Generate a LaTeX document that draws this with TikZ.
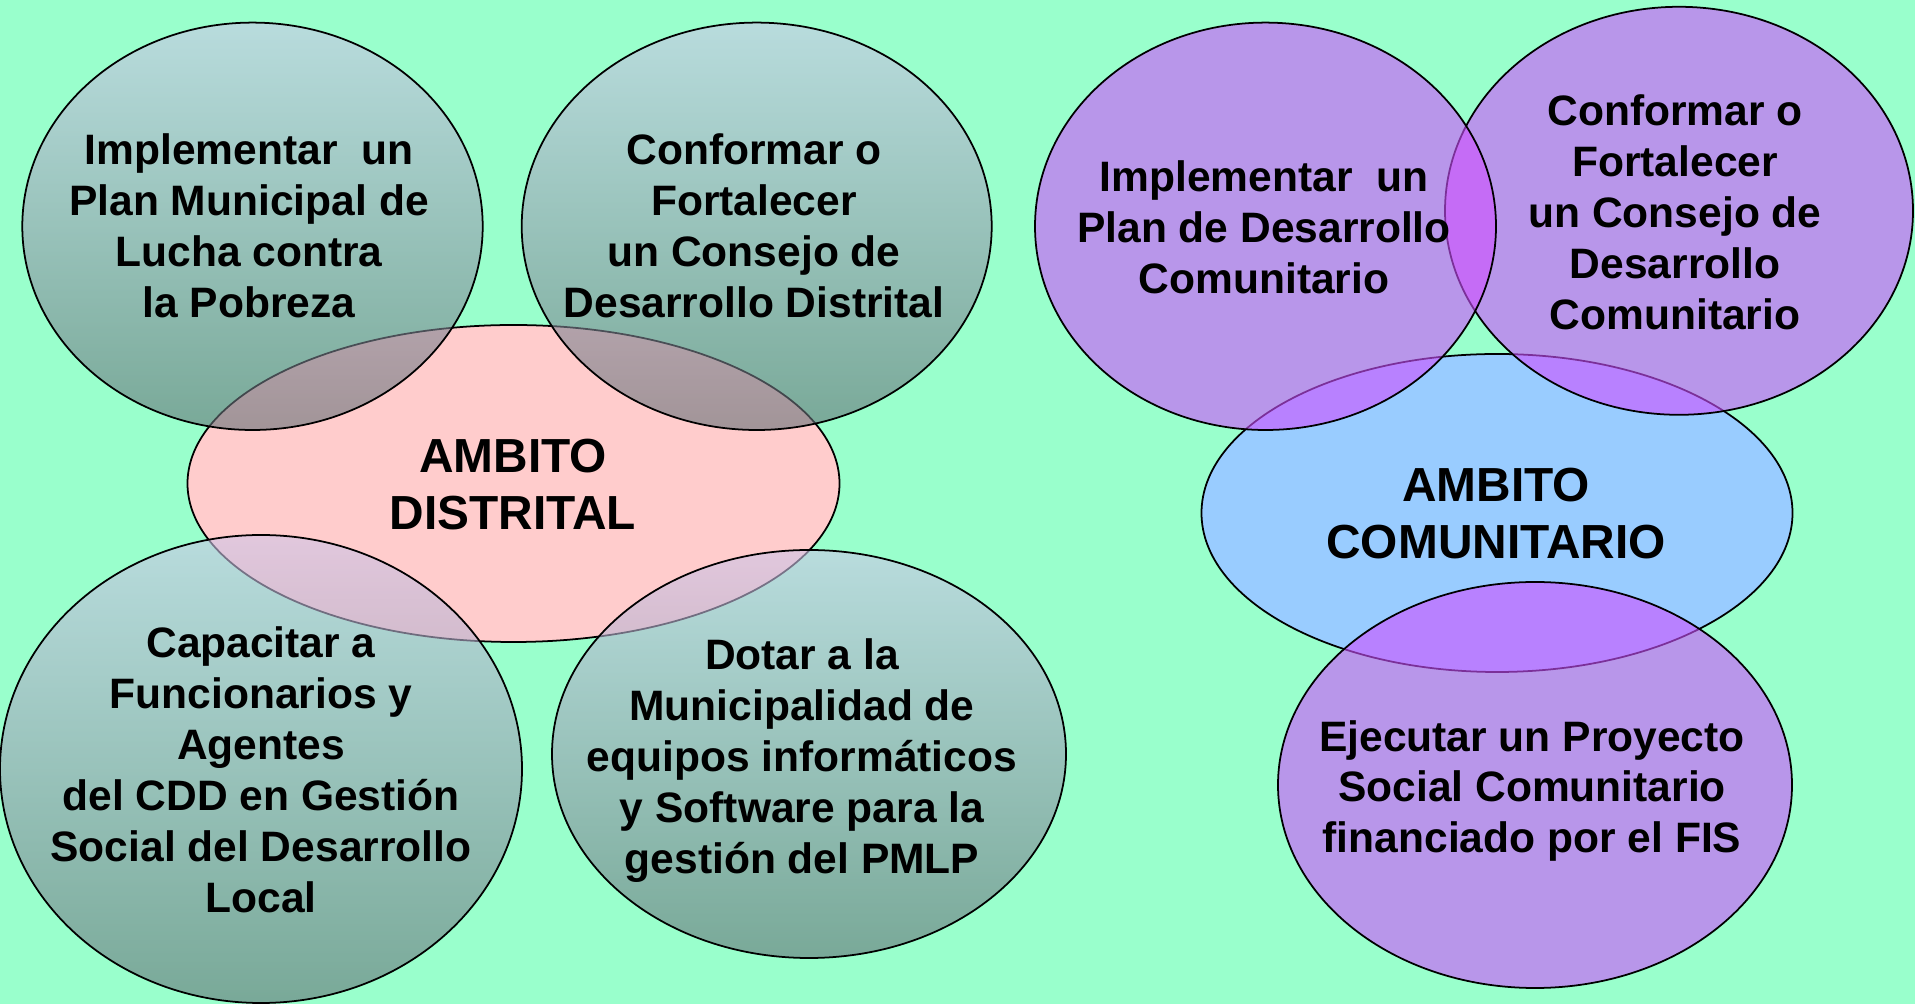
\documentclass[tikz,border=0pt]{standalone}
\usepackage{fontspec}
\setmainfont{Liberation Sans}
\definecolor{mint}{RGB}{153,255,204}
\definecolor{rosa}{RGB}{255,204,204}
\definecolor{celeste}{RGB}{153,204,255}
\definecolor{lila}{RGB}{206,80,255}
\definecolor{verdeclaro}{RGB}{206,197,233}
\definecolor{verdeosc}{RGB}{100,112,118}

\begin{document}
\begin{tikzpicture}[x=0.01cm,y=-0.01cm,
  oval/.style={draw=black,line width=0.5pt},
  verde/.style={oval,top color=verdeclaro,bottom color=verdeosc,fill opacity=0.6},
  morado/.style={oval,fill=lila,fill opacity=0.6},
  txt/.style={align=center,inner sep=0pt,font=\fontsize{12.1}{14.5}\selectfont\bfseries},
  ttl/.style={align=center,inner sep=0pt,font=\fontsize{13.6}{16.2}\selectfont\bfseries}]
\fill[mint] (0,0) rectangle (1915,1004);
\useasboundingbox (0,0) rectangle (1915,1004);

\path[oval,fill=rosa] (513.5,483.5) ellipse [x radius=326, y radius=158.5];
\path[verde] (252.5,226.3) ellipse [x radius=230.2, y radius=203.7];
\path[verde] (756.7,226.3) ellipse [x radius=235, y radius=203.7];
\path[verde] (261,769) ellipse [x radius=261, y radius=234];
\path[verde] (809,754) ellipse [x radius=257, y radius=204];

\path[oval,fill=celeste] (1497,513) ellipse [x radius=295.5, y radius=159];
\path[morado] (1679,210.8) ellipse [x radius=234, y radius=204];
\path[morado] (1265.5,226.3) ellipse [x radius=230.5, y radius=203.7];
\path[morado] (1535,785) ellipse [x radius=257, y radius=203];

\node[txt] (plan) at (249,226) {Implementar~ un\\Plan Municipal de\\Lucha contra\\la Pobreza};
\node[txt] (cdd) at (754,226) {Conformar o\\Fortalecer\\un Consejo de\\Desarrollo Distrital};
\node[ttl] (dist) at (513,485) {AMBITO\\DISTRITAL};
\node[txt] (capac) at (261,770) {Capacitar a\\Funcionarios y\\Agentes\\del CDD en Gestión\\Social del Desarrollo\\Local};
\node[txt] (dotar) at (802,761) {Dotar a la\\Municipalidad de\\equipos informáticos\\y Software para la\\gestión del PMLP};

\node[txt] (pdc) at (1264,227) {Implementar~ un\\Plan de Desarrollo\\Comunitario};
\node[txt] (cdc) at (1675,212) {Conformar o\\Fortalecer\\un Consejo de\\Desarrollo\\Comunitario};
\node[ttl] (com) at (1496,514) {AMBITO\\COMUNITARIO};
\node[txt] (fis) at (1532,791) {Ejecutar un Proyecto\\Social Comunitario\\financiado por el FIS};
\end{tikzpicture}
\end{document}
